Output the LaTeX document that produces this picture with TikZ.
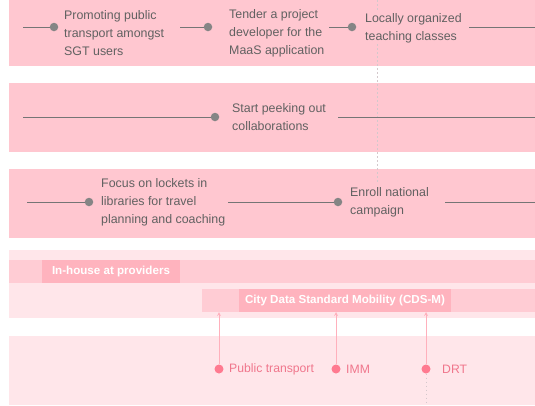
\documentclass[tikz,border=0pt]{standalone}
\usepackage{fontspec}
\setmainfont{Liberation Sans}
\definecolor{bandpink}{RGB}{255, 199, 208}
\definecolor{palepink}{RGB}{255, 230, 234}
\definecolor{barpink}{RGB}{255, 204, 212}
\definecolor{tagpink}{RGB}{255, 179, 190}
\definecolor{dotpink}{RGB}{255, 122, 144}
\definecolor{feedpink}{RGB}{255, 176, 188}
\definecolor{labelpink}{RGB}{240, 118, 140}
\definecolor{rulegray}{RGB}{117, 117, 117}
\definecolor{dotgray}{RGB}{133, 133, 133}
\definecolor{notegray}{RGB}{97, 97, 97}
\definecolor{dashgray}{RGB}{212, 200, 204}

\begin{document}
\begin{tikzpicture}[x=1pt, y=-1pt,
    rule/.style={draw=rulegray, line width=1pt},
    milestone/.style={circle, fill=dotgray, inner sep=0pt, minimum size=8.5pt},
    note/.style={anchor=west, align=left, inner sep=1pt, fill=bandpink, text=notegray,
      font=\fontsize{12.4}{18}\selectfont},
    tagbox/.style={fill=tagpink, text=white, inner sep=0pt, minimum height=23pt,
      font=\fontsize{11.6}{14}\selectfont\bfseries},
    pinkdot/.style={circle, fill=dotpink, inner sep=0pt, minimum size=9pt},
    pinklabel/.style={anchor=west, inner sep=0pt, text=labelpink, font=\fontsize{12.2}{14}\selectfont},
    feed/.style={draw=feedpink, line width=0.8pt, ->, >=stealth},
    dashline/.style={draw=dashgray, line width=0.9pt, dash pattern=on 1.5pt off 2.5pt}
  ]
    \useasboundingbox[fill=white] (0,0) rectangle (535,405);

    % bands
    \fill[bandpink] (9,0) rectangle (535,66);
    \fill[bandpink] (9,83) rectangle (535,152);
    \fill[bandpink] (9,169) rectangle (535,238);
    \fill[palepink] (9,250) rectangle (535,318);
    \fill[barpink] (9,260) rectangle (535,283);
    \fill[barpink] (202,289) rectangle (535,312);
    \fill[palepink] (9,336) rectangle (535,405);

    \draw[dashline] (377,0) -- (377,184);

    % first row
    \coordinate (promoin) at (23,27);
    \node (promodot) [milestone] at (54,27) {};
    \node (promo) [note] at (63,33) {Promoting public\\transport amongst\\SGT users};
    \coordinate (tenderin) at (180,27);
    \node (tenderdot) [milestone] at (208,27) {};
    \node (tender) [note] at (228,33) {Tender a project\\developer for the\\MaaS application};
    \coordinate (localin) at (329,27);
    \node (localdot) [milestone] at (352,27) {};
    \node (local) [note] at (364,28) {Locally organized\\teaching classes};
    \coordinate (localout) at (469,27);
    \coordinate (edgeA) at (535,27);
    \draw[rule] (promoin) -- (promodot);
    \draw[rule] (tenderin) -- (tenderdot);
    \draw[rule] (localin) -- (localdot);
    \draw[rule] (localout) -- (edgeA);

    % second row
    \coordinate (startin) at (23,117);
    \node (startdot) [milestone] at (215,117) {};
    \node (start) [note] at (231,117) {Start peeking out\\collaborations};
    \coordinate (startout) at (338,117);
    \coordinate (edgeB) at (535,117);
    \draw[rule] (startin) -- (startdot);
    \draw[rule] (startout) -- (edgeB);

    % third row
    \coordinate (focusin) at (27,202);
    \node (focusdot) [milestone] at (89,202) {};
    \node (focus) [note] at (100,202) {Focus on lockets in\\libraries for travel\\planning and coaching};
    \coordinate (enrollin) at (228,202);
    \node (enrolldot) [milestone] at (338,202) {};
    \node (enroll) [note] at (349,202) {Enroll national\\campaign};
    \coordinate (enrollout) at (445,202);
    \coordinate (edgeC) at (535,202);
    \draw[rule] (focusin) -- (focusdot);
    \draw[rule] (enrollin) -- (enrolldot);
    \draw[rule] (enrollout) -- (edgeC);

    % standards
    \node (inhouse) [tagbox, minimum width=138pt] at (111,271.5) {In-house at providers};
    \node (cdsm) [tagbox, minimum width=212pt] at (345,300.5) {City Data Standard Mobility (CDS-M)};
    \coordinate (barbottom) at (0,312);

    \node (ptdot) [pinkdot] at (219,369) {};
    \node (pt) [pinklabel] at (229,369.5) {Public transport};
    \node (immdot) [pinkdot] at (336,369) {};
    \node (imm) [pinklabel] at (346,369.5) {IMM};
    \node (drtdot) [pinkdot] at (426,369) {};
    \node (drt) [pinklabel] at (442,369.5) {DRT};
    \coordinate (drtend) at (426,405);

    \draw[feed] (ptdot) -- (ptdot |- barbottom);
    \draw[feed] (immdot) -- (immdot |- barbottom);
    \draw[feed] (drtdot) -- (drtdot |- barbottom);
    \draw[dashline] (drtdot.south) -- (drtend);
\end{tikzpicture}
\end{document}
